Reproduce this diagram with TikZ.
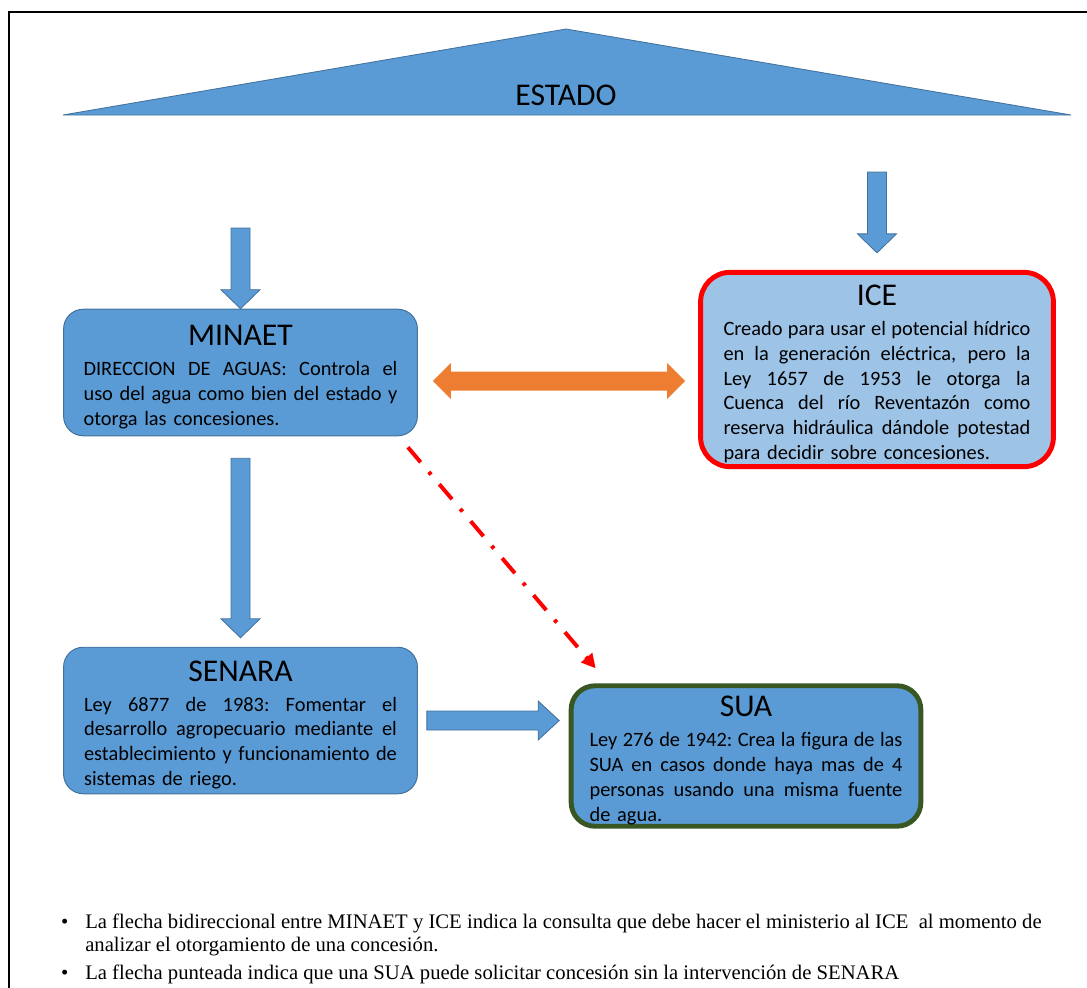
\documentclass[tikz,border=0pt]{standalone}
\usepackage{fontspec}
\setmainfont{Carlito}
\newfontfamily\notefont{Liberation Serif}
\usepackage{tikz}
\usetikzlibrary{
	positioning,
	calc,
	arrows.meta
}

\definecolor{boxblue}{HTML}{5B9BD5}
\definecolor{edgeblue}{HTML}{41719C}
\definecolor{iceblue}{HTML}{9DC3E6}
\definecolor{suagreen}{HTML}{385723}
\definecolor{linkorange}{HTML}{ED7D31}

% title of a box, then justified lines
\newcommand\boxtitle[1]{{\centering\fontsize{22.5}{27}\selectfont\rule{0pt}{20.9pt}#1\par}\vspace{3.6pt}}
\newcommand\jl[1]{\hbox to\hsize{\spaceskip=\fontdimen2\font plus 1fil minus 0.4\fontdimen2\font
	\xspaceskip=\spaceskip #1}}
\newcommand\lastl[1]{\hbox to\hsize{#1\hfil}}

\tikzset{
	entity/.style={rectangle, rounded corners=14pt, fill=boxblue, draw=edgeblue,
		line width=0.7pt, inner xsep=14.2pt, inner ysep=0pt,
		font=\fontsize{14.5}{17.7}\selectfont},
	fat/.style={fill=boxblue, draw=edgeblue, line width=0.6pt},
	fatdown/.style={to path={
		($(\tikztostart)+(-9.5,0)$) -- ($(\tikztotarget)+(-9.5,-19)$)
		-- ($(\tikztotarget)+(-19.5,-19)$) -- (\tikztotarget)
		-- ($(\tikztotarget)+(19.5,-19)$) -- ($(\tikztotarget)+(9.5,-19)$)
		-- ($(\tikztostart)+(9.5,0)$) -- cycle}},
	fatright/.style={to path={
		($(\tikztostart)+(0,-9.5)$) -- ($(\tikztotarget)+(-21,-9.5)$)
		-- ($(\tikztotarget)+(-21,-19.5)$) -- (\tikztotarget)
		-- ($(\tikztotarget)+(-21,19.5)$) -- ($(\tikztotarget)+(-21,9.5)$)
		-- ($(\tikztostart)+(0,9.5)$) -- cycle}},
	fatboth/.style={to path={
		(\tikztostart) -- ($(\tikztostart)+(18,-18)$) -- ($(\tikztostart)+(18,-9.5)$)
		-- ($(\tikztotarget)+(-18,-9.5)$) -- ($(\tikztotarget)+(-18,-18)$)
		-- (\tikztotarget) -- ($(\tikztotarget)+(-18,18)$) -- ($(\tikztotarget)+(-18,9.5)$)
		-- ($(\tikztostart)+(18,9.5)$) -- ($(\tikztostart)+(18,18)$) -- cycle}},
	note/.style={anchor=base west, align=left, inner sep=0pt,
		font=\notefont\fontsize{14.7}{16.3}\selectfont}
}

\begin{document}
\begin{tikzpicture}[x=0.025cm, y=-0.025cm]
	\useasboundingbox (0,0) rectangle (1087,988);
	% frame
	\draw[line width=1.2pt] (9,988) -- (9,12) -- (1087,12);

	% estado
	\filldraw[fill=boxblue, draw=edgeblue, line width=0.6pt]
		(63,115) -- (566,29) -- (1071,115) -- cycle;
	\node[font=\fontsize{22.5}{27}\selectfont] (estado) at (566,95) {ESTADO};

	% boxes
	\node[entity, text width=223.2pt, minimum width=251.6pt, minimum height=90pt]
		(minaet) at (240.5,372.5) {\boxtitle{MINAET}
		\jl{DIRECCION DE AGUAS: Controla el}
		\jl{uso del agua como bien del estado y}
		\lastl{otorga las concesiones.}};
	\node[entity, fill=iceblue, draw=red, line width=3.5pt, rounded corners=21pt,
		inner xsep=16.3pt, text width=218.3pt, minimum width=250.9pt, minimum height=138.2pt]
		(ice) at (877,369.5) {\boxtitle{ICE}
		\jl{Creado para usar el potencial hídrico}
		\jl{en la generación eléctrica, pero la}
		\jl{Ley 1657 de 1953 le otorga la}
		\jl{Cuenca del río Reventazón como}
		\jl{reserva hidráulica dándole potestad}
		\lastl{para decidir sobre concesiones.}};
	\node[entity, text width=222.5pt, minimum width=251.6pt, minimum height=104.2pt]
		(senara) at (240.5,720.5) {\boxtitle{SENARA}
		\jl{Ley 6877 de 1983: Fomentar el}
		\jl{desarrollo agropecuario mediante el}
		\jl{establecimiento y funcionamiento de}
		\lastl{sistemas de riego.}};
	\node[entity, draw=suagreen, line width=3.5pt, rounded corners=17pt,
		inner xsep=13pt, text width=222.5pt, minimum width=248.7pt, minimum height=99.9pt]
		(sua) at (746,756) {\boxtitle{SUA}
		\jl{Ley 276 de 1942: Crea la figura de las}
		\jl{SUA en casos donde haya mas de 4}
		\jl{personas usando una misma fuente}
		\lastl{de agua.}};

	% connector ends
	\coordinate (estL)   at (minaet.north |- 0,228);
	\coordinate (estR)   at (ice.north |- 0,172);
	\coordinate (iceIn)  at ($(ice.north)+(0,-17)$);
	\coordinate (minOut) at ($(minaet.south)+(0,22)$);
	\coordinate (senIn)  at ($(senara.north)+(0,-9)$);
	\coordinate (senOut) at ($(senara.east)+(9,0)$);
	\coordinate (suaIn)  at ($(sua.west |- senara.east)+(-9.5,0)$);
	\coordinate (minR)   at ($(minaet.east |- 0,381)+(15,0)$);
	\coordinate (iceL)   at ($(ice.west |- 0,381)+(-13,0)$);
	\coordinate (dashA)  at ($(minaet.south east)+(-10,11)$);
	\coordinate (dashB)  at ($(sua.north west)+(27,-15)$);

	% connectors
	\draw[fat] (estL) to[fatdown] (minaet.north);
	\draw[fat] (estR) to[fatdown] (iceIn);
	\draw[fat] (minOut) to[fatdown] (senIn);
	\draw[fat] (senOut) to[fatright] (suaIn);
	\fill[linkorange] (minR) to[fatboth] (iceL);
	\draw[red, line width=2.8pt, dash pattern=on 14pt off 9pt on 2.5pt off 9pt,
		-{Triangle[length=10pt, width=10pt]}] (dashA) -- (dashB);

	% notes
	\node[note] (note1) at (85,951) {\llap{\textbullet\hspace{12pt}}La flecha bidireccional entre MINAET y ICE indica la consulta que debe hacer el ministerio al ICE \ al momento de\\
		analizar el otorgamiento de una concesión.};
	\node[note] (note2) at (85,979) {\llap{\textbullet\hspace{12pt}}La flecha punteada indica que una SUA puede solicitar concesión sin la intervención de SENARA};
\end{tikzpicture}
\end{document}
